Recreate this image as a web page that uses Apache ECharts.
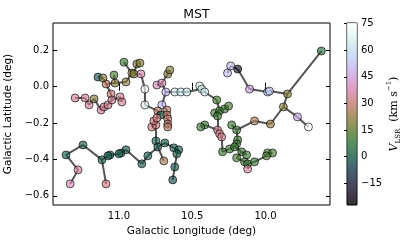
<!DOCTYPE html>
<html><head><meta charset="utf-8">
<script src="https://cdn.jsdelivr.net/npm/echarts@6/dist/echarts.min.js"></script>
<style>html,body{margin:0;padding:0;background:#fff}#c{width:415px;height:244px}</style>
</head><body><div id="c"></div>
<script>
// Galactic longitude (deg)
const lon = [11.299,11.231,11.204,11.170,11.122,11.102,11.075,11.054,11.048,10.993,
10.980,11.088,11.143,11.109,11.034,11.027,10.952,10.966,10.912,10.898,
10.878,10.857,10.850,10.823,10.823,10.741,10.707,10.667,10.653,10.680,
10.619,10.578,10.537,10.449,10.435,10.415,10.333,10.347,10.313,10.279,
10.252,10.707,10.735,10.673,10.714,10.673,10.667,10.667,10.667,10.776,
10.748,10.762,10.741,10.748,10.735,10.687,10.626,10.592,10.605,10.694,
10.619,10.633,10.803,10.844,10.952,10.986,11.000,11.061,11.075,11.116,
11.088,11.245,11.361,11.279,11.333,10.415,10.442,10.327,10.327,10.313,
10.299,10.231,10.197,10.190,10.197,10.293,10.245,10.211,10.163,10.129,
10.197,10.143,10.122,10.075,10.122,9.986,9.952,9.993,10.075,9.966,
9.878,9.850,9.619,9.782,9.707,9.986,9.973,10.109,10.190,10.238,10.259];
// Galactic latitude (deg)
const lat = [-0.062,-0.062,-0.100,-0.067,-0.128,-0.111,-0.100,-0.040,-0.073,-0.056,
-0.084,0.015,0.053,0.048,0.064,0.020,0.026,0.135,0.075,0.070,
0.125,0.130,0.070,-0.013,-0.100,0.009,0.020,0.070,0.092,-0.029,
-0.029,-0.029,-0.029,0.004,-0.013,-0.029,-0.073,-0.144,-0.133,-0.122,
-0.106,-0.100,-0.133,-0.128,-0.155,-0.155,-0.177,-0.205,-0.221,-0.221,
-0.210,-0.188,-0.172,-0.298,-0.331,-0.309,-0.336,-0.347,-0.369,-0.408,
-0.441,-0.512,-0.380,-0.424,-0.347,-0.364,-0.369,-0.375,-0.380,-0.402,
-0.534,-0.320,-0.375,-0.457,-0.534,-0.210,-0.221,-0.161,-0.238,-0.259,
-0.276,-0.210,-0.238,-0.292,-0.314,-0.358,-0.342,-0.331,-0.358,-0.375,
-0.391,-0.413,-0.424,-0.413,-0.452,-0.364,-0.364,-0.380,-0.188,-0.205,
-0.111,-0.040,0.196,-0.166,-0.221,-0.029,-0.024,-0.013,0.097,0.114,0.075];
// V_LSR (km/s)
const vlsr = [34,34,34,20,34,34,33,31,34,34,
34,29,-3,20,12,20,22,10,20,20,
20,20,38,72,70,38,38,20,20,52,
65,65,65,66,66,64,12,10,10,10,
12,52,28,29,0,29,29,29,27,31,
31,31,31,0,-2,0,0,0,0,26,
-2,-3,0,0,0,0,0,0,0,0,
31,0,0,35,40,10,10,10,34,34,
33,10,10,10,10,10,10,10,10,10,
12,10,10,10,36,12,12,12,26,22,
20,20,5,48,74,55,55,45,-20,52,52];
// MST edges (point index pairs)
const edges = [[0,1],[1,2],[2,3],[3,4],[4,5],[5,6],[6,8],[8,7],[7,11],[8,9],[9,10],
[11,13],[13,12],[11,15],[15,14],[15,16],[16,18],[18,19],[18,17],[19,20],[20,21],[19,22],[22,23],[23,24],
[24,42],[42,44],[42,52],[52,51],[51,50],[50,49],[50,53],
[41,43],[43,45],[45,46],[46,47],[47,48],[29,41],
[25,26],[26,27],[27,28],[26,29],[29,30],[30,31],[31,32],[32,34],[34,33],[34,35],[35,36],[36,38],[38,37],[38,39],[39,40],
[37,77],[77,78],[78,75],[75,76],[78,79],[79,80],[80,85],[85,86],[86,87],[87,84],[84,83],[83,82],[82,81],
[87,88],[88,89],[88,90],[90,91],[91,92],[92,93],[92,94],[93,97],[97,95],[95,96],
[82,98],[98,99],[99,100],[100,101],[101,102],[101,106],[106,105],[105,107],[107,108],[108,109],[109,110],[100,103],[103,104],
[53,54],[54,55],[55,56],[56,57],[57,58],[58,60],[60,61],[54,59],[54,62],[62,63],[63,64],[64,65],[65,66],[66,67],[67,68],[68,69],[69,70],[69,71],[71,72],[72,73],[73,74]];
const xTicks = [10.0, 10.5, 11.0];
const yTicks = [-0.6, -0.4, -0.2, 0.0, 0.2];
const cbTicks = [-15, 0, 15, 30, 45, 60, 75];
const vMin = -27.3, vMax = 75.4;

function cubehelix(x){
  const s=0.5,r=-1.5,h=1.0;
  const a=h*x*(1-x)/2, phi=2*Math.PI*(s/3+r*x);
  const c=Math.cos(phi), sn=Math.sin(phi);
  const cl=v=>Math.round(255*Math.max(0,Math.min(1,v)));
  return [cl(x+a*(-0.14861*c+1.78277*sn)), cl(x+a*(-0.29227*c-0.90649*sn)), cl(x+a*(1.97294*c))];
}
const ALPHA=0.8;
const N=40, cmap=[], stops=[];
for(let i=0;i<=N;i++){const [R,G,B]=cubehelix(i/N);const col=`rgba(${R},${G},${B},${ALPHA})`;cmap.push(col);stops.push({offset:i/N,color:col});}
const fmt=v=>v.toFixed(1).replace('-','\u2212');
const FONT='DejaVu Sans';
const chart=echarts.init(document.getElementById('c'),null,{renderer:'canvas'});
const tickCommon={inside:true,length:4,lineStyle:{color:'#000',width:1}};
chart.setOption({
  animation:false,
  textStyle:{fontFamily:FONT},
  title:{text:'MST',left:191.5,textAlign:'center',top:3,textStyle:{fontFamily:FONT,fontSize:12.5,fontWeight:'normal',color:'#000'}},
  grid:[{left:53,right:85,top:23,bottom:39,show:true,borderColor:'#000',borderWidth:1,backgroundColor:'transparent',outerBoundsMode:'none',containLabel:false},
        {left:347,width:10,top:23,bottom:39,show:true,borderColor:'#000',borderWidth:1,outerBoundsMode:'none',containLabel:false}],
  xAxis:[
    {gridIndex:0,type:'value',inverse:true,min:9.56,max:11.45,position:'bottom',
     axisLine:{show:false},splitLine:{show:false},
     axisTick:Object.assign({customValues:xTicks},tickCommon),
     axisLabel:{customValues:xTicks,formatter:fmt,fontSize:10,color:'#000',margin:6,fontFamily:FONT},
     name:'Galactic Longitude (deg)',nameLocation:'middle',nameGap:21,nameTextStyle:{fontSize:10.5,color:'#000',fontFamily:FONT}},
    {gridIndex:0,type:'value',inverse:true,min:9.56,max:11.45,position:'top',
     axisLine:{show:false},splitLine:{show:false},axisLabel:{show:false},
     axisTick:Object.assign({customValues:xTicks},tickCommon)},
    {gridIndex:1,type:'value',min:0,max:1,show:false}
  ],
  yAxis:[
    {gridIndex:0,type:'value',min:-0.65,max:0.35,position:'left',
     axisLine:{show:false},splitLine:{show:false},
     axisTick:Object.assign({customValues:yTicks},tickCommon),
     axisLabel:{customValues:yTicks,formatter:fmt,fontSize:10,color:'#000',margin:4,fontFamily:FONT},
     name:'Galactic Latitude (deg)',nameLocation:'middle',nameGap:31,nameTextStyle:{fontSize:10.5,color:'#000',fontFamily:FONT}},
    {gridIndex:0,type:'value',min:-0.65,max:0.35,position:'right',
     axisLine:{show:false},splitLine:{show:false},axisLabel:{show:false},
     axisTick:Object.assign({customValues:yTicks},tickCommon)},
    {gridIndex:1,type:'value',min:vMin,max:vMax,position:'right',
     axisLine:{show:false},splitLine:{show:false},
     axisTick:{customValues:cbTicks,inside:true,length:3,lineStyle:{color:'#000'}},
     axisLabel:{customValues:cbTicks,formatter:v=>String(v).replace('-','\u2212'),fontSize:10,color:'#000',margin:4,fontFamily:FONT},
     name:'{v|V}{sub|LSR}{n|  (km s}{sup|\u22121}{n|)}',nameLocation:'middle',nameRotate:90,nameGap:25,
     nameTextStyle:{color:'#000',rich:{
       v:{fontFamily:'DejaVu Serif',fontStyle:'italic',fontSize:11,color:'#000',lineHeight:16,verticalAlign:'middle'},
       sub:{fontFamily:'DejaVu Serif',fontSize:7,color:'#000',lineHeight:16,verticalAlign:'bottom'},
       sup:{fontFamily:'DejaVu Serif',fontSize:7,color:'#000',lineHeight:16,verticalAlign:'top'},
       n:{fontFamily:'DejaVu Serif',fontSize:11,color:'#000',lineHeight:16,verticalAlign:'middle'}}}}
  ],
  visualMap:{type:'continuous',show:false,seriesIndex:1,dimension:2,min:vMin,max:vMax,inRange:{color:cmap}},
  series:[
    {type:'lines',coordinateSystem:'cartesian2d',xAxisIndex:0,yAxisIndex:0,polyline:false,silent:true,z:2,
     lineStyle:{color:'#555',width:2,opacity:1},
     data:edges.map(([i,j])=>({coords:[[lon[i],lat[i]],[lon[j],lat[j]]]}))},
    {type:'scatter',xAxisIndex:0,yAxisIndex:0,symbolSize:8,z:3,
     itemStyle:{borderColor:'#000',borderWidth:0.8},
     data:lon.map((x,i)=>[x,lat[i],vlsr[i]])},
    {type:'custom',xAxisIndex:2,yAxisIndex:2,silent:true,data:[[0,vMin,1,vMax]],
     renderItem:(params,api)=>{
       const p1=api.coord([api.value(0),api.value(3)]);
       const p2=api.coord([api.value(2),api.value(1)]);
       return {type:'rect',shape:{x:p1[0],y:p1[1],width:p2[0]-p1[0],height:p2[1]-p1[1]},
         style:{fill:new echarts.graphic.LinearGradient(0,1,0,0,stops)}};
     }}
  ]
});
</script></body></html>
